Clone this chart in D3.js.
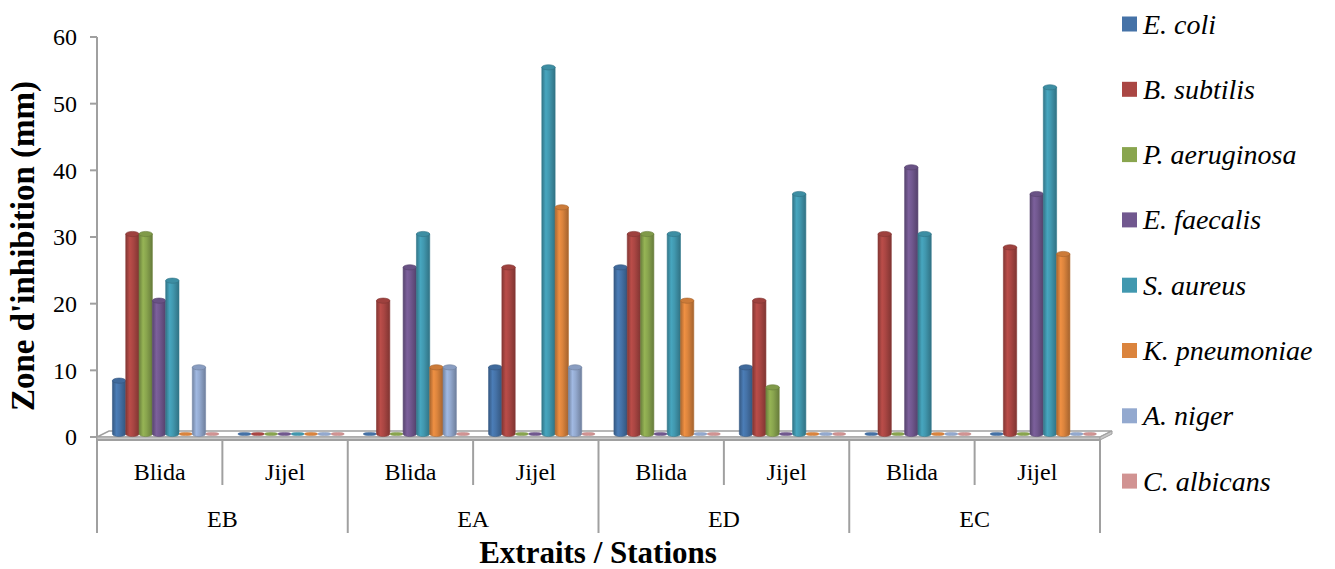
<!DOCTYPE html>
<html>
<head>
<meta charset="utf-8">
<script src="https://cdn.jsdelivr.net/npm/d3@7"></script>
<style>
  html, body { margin: 0; padding: 0; background: #fff; }
  svg { display: block; }
  text { font-family: "Liberation Serif", "Times New Roman", "DejaVu Serif", serif; fill: #000; }
</style>
</head>
<body>
<svg id="chart" width="1335" height="569" font-family="Liberation Serif, Times New Roman, serif"></svg>
<script>
// Extracts and sampling stations
const extraits = ["EB", "EA", "ED", "EC"];
const stations = ["Blida", "Jijel"];

// Test organisms (legend order)
const organisms = ["E. coli", "B. subtilis", "P. aeruginosa", "E. faecalis",
                   "S. aureus", "K. pneumoniae", "A. niger", "C. albicans"];

// Inhibition zone (mm), one value per extract/station:
// EB-Blida, EB-Jijel, EA-Blida, EA-Jijel, ED-Blida, ED-Jijel, EC-Blida, EC-Jijel
const eColi        = [8, 0, 0, 10, 25, 10, 0, 0];
const bSubtilis    = [30, 0, 20, 25, 30, 20, 30, 28];
const pAeruginosa  = [30, 0, 0, 0, 30, 7, 0, 0];
const eFaecalis    = [20, 0, 25, 0, 0, 0, 40, 36];
const sAureus      = [23, 0, 30, 55, 30, 36, 30, 52];
const kPneumoniae  = [0, 0, 10, 34, 20, 0, 0, 27];
const aNiger       = [10, 0, 10, 10, 0, 0, 0, 0];
const cAlbicans    = [0, 0, 0, 0, 0, 0, 0, 0];

const seriesValues = [eColi, bSubtilis, pAeruginosa, eFaecalis,
                      sAureus, kPneumoniae, aNiger, cAlbicans];

const yTicks = [0, 10, 20, 30, 40, 50, 60];
const colors = ["#4572A7", "#AA4643", "#89A54E", "#71588F",
                "#4198AF", "#DB843D", "#93A9CF", "#D19392"];

(function draw() {
  const svg = d3.select("#chart");
  const plotLeft = 97, plotRight = 1100, plotTop = 37, plotBase = 437;
  const depthX = 12, depthY = 6;         // floor depth offset
  const barShiftX = 6, barShiftY = 3;    // bars stand mid-depth on the floor

  const cats = [];
  extraits.forEach(e => stations.forEach(s => cats.push(e + "|" + s)));

  const x0 = d3.scaleBand().domain(cats).range([plotLeft, plotRight]);
  const x1 = d3.scaleBand().domain(d3.range(organisms.length))
    .range([0, x0.bandwidth()]).paddingOuter(0.71);
  const y = d3.scaleLinear().domain([0, 60]).range([plotBase, plotTop]);

  // Gradients giving the cylinders their shading
  const defs = svg.append("defs");
  colors.forEach((c, i) => {
    const g = defs.append("linearGradient").attr("id", "cyl" + i)
      .attr("x1", "0%").attr("x2", "100%").attr("y1", "0%").attr("y2", "0%");
    const col = d3.color(c);
    g.append("stop").attr("offset", "0%").attr("stop-color", col.darker(0.7));
    g.append("stop").attr("offset", "30%").attr("stop-color", col.brighter(0.25));
    g.append("stop").attr("offset", "55%").attr("stop-color", col);
    g.append("stop").attr("offset", "100%").attr("stop-color", col.darker(0.8));
  });

  const axisGrey = "#a0a0a0";

  // Value axis
  const yAxis = svg.append("g");
  yAxis.append("line").attr("x1", plotLeft).attr("x2", plotLeft)
    .attr("y1", y(60)).attr("y2", plotBase + 3)
    .attr("stroke", axisGrey).attr("stroke-width", 2);
  yAxis.selectAll("line.tick").data(yTicks).join("line").attr("class", "tick")
    .attr("x1", plotLeft - 7).attr("x2", plotLeft)
    .attr("y1", d => y(d)).attr("y2", d => y(d))
    .attr("stroke", axisGrey).attr("stroke-width", 2);
  yAxis.selectAll("text").data(yTicks).join("text")
    .attr("x", 77).attr("y", d => y(d)).attr("dy", "0.35em")
    .attr("text-anchor", "end").attr("font-size", 24)
    .text(d => d);

  // Floor slab
  const floor = svg.append("g");
  floor.append("path")
    .attr("d", `M${plotLeft},${plotBase} L${plotRight},${plotBase} L${plotRight + depthX},${plotBase - depthY} L${plotLeft + depthX},${plotBase - depthY} Z`)
    .attr("fill", "#fff").attr("stroke", axisGrey).attr("stroke-width", 1.5);
  floor.append("path")
    .attr("d", `M${plotLeft},${plotBase} L${plotRight},${plotBase} L${plotRight},${plotBase + 3} L${plotLeft},${plotBase + 3} Z`)
    .attr("fill", "#c8c8c8").attr("stroke", axisGrey).attr("stroke-width", 1);
  floor.append("path")
    .attr("d", `M${plotRight},${plotBase + 3} L${plotRight + depthX},${plotBase - depthY + 3} L${plotRight + depthX},${plotBase - depthY} L${plotRight},${plotBase}Z`)
    .attr("fill", "#c8c8c8").attr("stroke", axisGrey).attr("stroke-width", 1);

  // Cylinders
  const barW = x1.bandwidth();
  const rx = barW / 2, ry = 2.6;
  const bars = svg.append("g");
  seriesValues.forEach((vals, si) => {
    vals.forEach((v, ci) => {
      const xl = x0(cats[ci]) + x1(si) + barShiftX;
      const cx = xl + rx;
      const yb = y(0) - barShiftY;
      const yt = y(v) - barShiftY;
      const col = d3.color(colors[si]);
      if (v > 0) {
        bars.append("path")
          .attr("d", `M${xl},${yt} L${xl},${yb} A${rx},${ry} 0 0 0 ${xl + barW},${yb} L${xl + barW},${yt} Z`)
          .attr("fill", `url(#cyl${si})`)
          .attr("stroke", col.darker(0.6)).attr("stroke-width", 0.6);
        bars.append("ellipse")
          .attr("cx", cx).attr("cy", yt).attr("rx", rx).attr("ry", ry)
          .attr("fill", col.darker(0.2))
          .attr("stroke", col.darker(0.8)).attr("stroke-width", 0.6);
      } else {
        bars.append("ellipse")
          .attr("cx", cx).attr("cy", yb).attr("rx", rx).attr("ry", 1.6)
          .attr("fill", col).attr("stroke", col.darker(0.4)).attr("stroke-width", 0.5);
      }
    });
  });

  // Category axis (two levels)
  const xAxis = svg.append("g");
  const axY = plotBase + 3;
  xAxis.append("line").attr("x1", plotLeft).attr("x2", plotRight)
    .attr("y1", axY).attr("y2", axY)
    .attr("stroke", axisGrey).attr("stroke-width", 2);
  cats.forEach((c, i) => {
    const xs = x0(c);
    const major = i % stations.length === 0;
    xAxis.append("line").attr("x1", xs).attr("x2", xs)
      .attr("y1", axY).attr("y2", major ? 533 : 485)
      .attr("stroke", axisGrey).attr("stroke-width", 2);
    xAxis.append("text")
      .attr("x", xs + x0.bandwidth() / 2).attr("y", 472).attr("dy", "0.35em")
      .attr("text-anchor", "middle").attr("font-size", 24)
      .text(c.split("|")[1]);
  });
  xAxis.append("line").attr("x1", plotRight).attr("x2", plotRight)
    .attr("y1", axY).attr("y2", 533)
    .attr("stroke", axisGrey).attr("stroke-width", 2);
  extraits.forEach(e => {
    const xs = x0(e + "|" + stations[0]);
    const w = x0.bandwidth() * stations.length;
    xAxis.append("text")
      .attr("x", xs + w / 2).attr("y", 519).attr("dy", "0.35em")
      .attr("text-anchor", "middle").attr("font-size", 24)
      .text(e);
  });

  // Axis titles
  svg.append("text")
    .attr("x", 598).attr("y", 563)
    .attr("text-anchor", "middle").attr("font-size", 31).attr("font-weight", "bold")
    .text("Extraits / Stations");
  svg.append("text")
    .attr("transform", "translate(34,246) rotate(-90)")
    .attr("text-anchor", "middle").attr("font-size", 33).attr("font-weight", "bold")
    .text("Zone d'inhibition (mm)");

  // Legend
  const legend = svg.append("g");
  organisms.forEach((name, i) => {
    const cy = 24 + i * 65.3;
    legend.append("rect").attr("x", 1122).attr("y", cy - 7.5)
      .attr("width", 15).attr("height", 15).attr("fill", colors[i]);
    legend.append("text").attr("x", 1143).attr("y", cy + 9.5)
      .attr("font-size", 28).attr("font-style", "italic")
      .text(name);
  });
})();
</script>
</body>
</html>
